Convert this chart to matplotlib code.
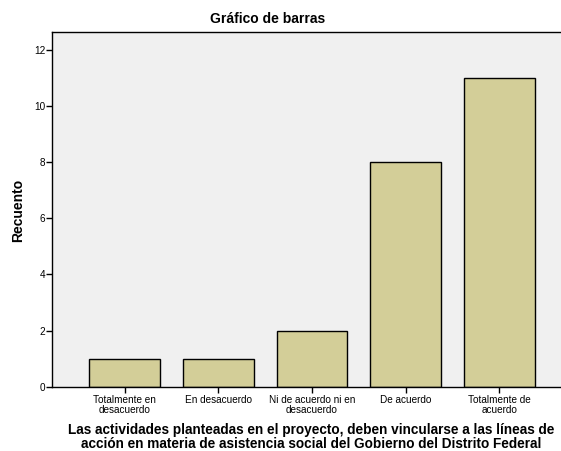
import matplotlib
matplotlib.use("Agg")
import matplotlib.pyplot as plt

categories = ["Totalmente en\ndesacuerdo", "En desacuerdo", "Ni de acuerdo ni en\ndesacuerdo",
              "De acuerdo", "Totalmente de\nacuerdo"]
counts = [1, 1, 2, 8, 11]
yticks = [0, 2, 4, 6, 8, 10, 12]

plt.rcParams["font.family"] = ["Liberation Sans", "DejaVu Sans"]

fig = plt.figure(figsize=(5.61, 4.51), dpi=100)
ax = fig.add_axes([52 / 561, 1 - 386.7 / 451, 1 - 52 / 561, (386.7 - 32.3) / 451])
ax.set_facecolor("#F0F0F0")

x = list(range(len(categories)))
ax.bar(x, counts, width=0.755, color="#D3CE98", edgecolor="black", linewidth=1.0, zorder=2)

ax.set_xlim(-0.775, 4.66)
ax.set_ylim(0, 12.63)
ax.set_yticks(yticks)
ax.set_yticklabels([str(v) for v in yticks], fontsize=7.2)
ax.set_xticks(x)
ax.set_xticklabels(categories, fontsize=7.2, linespacing=1.0)
ax.tick_params(axis="both", direction="out", length=4, width=1, color="black", pad=2)
ax.tick_params(axis="y", pad=1)

for side in ["left", "top", "bottom"]:
    ax.spines[side].set_linewidth(1.0)
    ax.spines[side].set_color("black")
ax.spines["right"].set_visible(False)

fig.text(268 / 561, 1 - 19 / 451, "Gráfico de barras", ha="center", va="center",
         fontsize=10, fontweight="bold")
fig.text(18 / 561, 1 - 210 / 451, "Recuento", ha="center", va="center", rotation=90,
         fontsize=10, fontweight="bold")
fig.text(311 / 561, 1 - 437 / 451,
         "Las actividades planteadas en el proyecto, deben vincularse a las líneas de\n"
         "acción en materia de asistencia social del Gobierno del Distrito Federal",
         ha="center", va="center", fontsize=9.8, fontweight="bold", linespacing=0.92)

fig.savefig("out.png", dpi=100, facecolor="white")
